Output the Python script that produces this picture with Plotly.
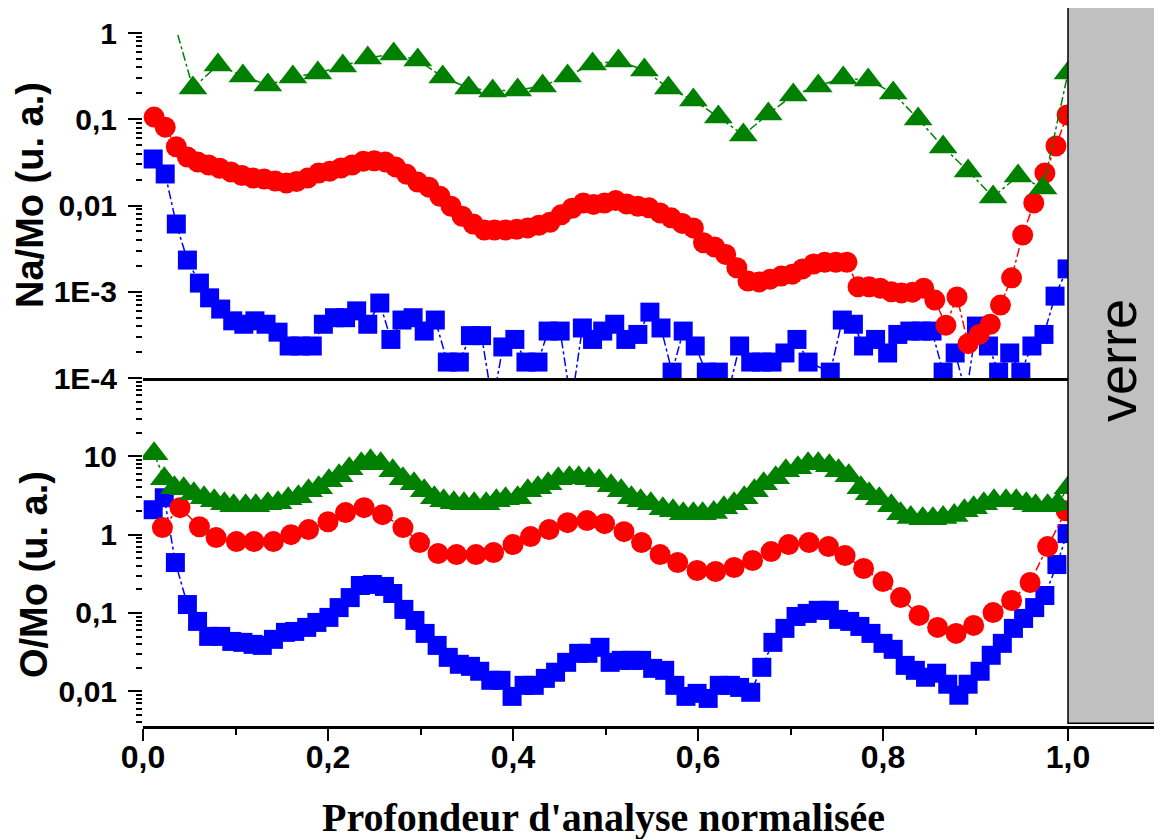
import numpy as np
import plotly.graph_objects as go

# ---------------- data ----------------
# Top panel : Na/Mo (u. a.)
green_top_x = [0.027, 0.054, 0.081, 0.108, 0.135, 0.162, 0.189, 0.216, 0.243, 0.271,
               0.297, 0.324, 0.352, 0.378, 0.405, 0.432, 0.459, 0.486, 0.514, 0.542,
               0.568, 0.595, 0.622, 0.649, 0.676, 0.703, 0.730, 0.757, 0.784, 0.811,
               0.838, 0.865, 0.892, 0.919, 0.946, 0.973, 1.000]
green_top_y = [2.4, 0.23, 0.425, 0.317, 0.249, 0.309, 0.344, 0.414, 0.513, 0.571,
               0.486, 0.309, 0.23, 0.213, 0.218, 0.243, 0.317, 0.437, 0.474, 0.372,
               0.23, 0.167, 0.106, 0.0657, 0.115, 0.191, 0.243, 0.301, 0.285, 0.201,
               0.1007, 0.0477, 0.0251, 0.01255, 0.022, 0.016, 0.344]

red_top_x = [0.012, 0.024, 0.036, 0.048, 0.059, 0.071, 0.083, 0.095, 0.107, 0.119,
             0.131, 0.143, 0.155, 0.166, 0.178, 0.190, 0.202, 0.214, 0.226, 0.238,
             0.250, 0.262, 0.273, 0.285, 0.297, 0.309, 0.321, 0.333, 0.345, 0.357,
             0.369, 0.380, 0.392, 0.404, 0.416, 0.428, 0.440, 0.452, 0.464, 0.476,
             0.487, 0.499, 0.511, 0.523, 0.535, 0.547, 0.559, 0.571, 0.583, 0.595,
             0.606, 0.618, 0.630, 0.642, 0.654, 0.666, 0.678, 0.690, 0.702, 0.713,
             0.725, 0.737, 0.749, 0.761, 0.773, 0.785, 0.797, 0.809, 0.820, 0.832,
             0.844, 0.856, 0.868, 0.880, 0.892, 0.904, 0.916, 0.927, 0.939, 0.951,
             0.963, 0.975, 0.987, 0.999]
red_top_y = [0.106, 0.081, 0.048, 0.0365, 0.032, 0.0295, 0.027, 0.0245, 0.0223, 0.0208,
             0.0203, 0.0192, 0.0182, 0.019, 0.0208, 0.0238, 0.025, 0.0272, 0.0295, 0.0325,
             0.033, 0.032, 0.028, 0.023, 0.0187, 0.0163, 0.0128, 0.0098, 0.0075, 0.0061,
             0.0052, 0.0052, 0.0052, 0.0053, 0.0055, 0.0059, 0.0064, 0.0078, 0.0093, 0.0107,
             0.0103, 0.0107, 0.0114, 0.0104, 0.0098, 0.0094, 0.0082, 0.0072, 0.0062, 0.0055,
             0.0037, 0.0033, 0.0027, 0.0019, 0.00133, 0.0013, 0.0014, 0.00152, 0.0016, 0.00184,
             0.0021, 0.0022, 0.0022, 0.0022, 0.00114, 0.00114, 0.0011, 0.001, 0.00097, 0.00099,
             0.0011, 0.0008, 0.00041, 0.00087, 0.00025, 0.00032, 0.00042, 0.0007, 0.00145, 0.00455,
             0.0107, 0.0238, 0.049, 0.112]

blue_top_x = [0.011, 0.024, 0.036, 0.048, 0.061, 0.072, 0.084, 0.097, 0.109, 0.121,
              0.133, 0.146, 0.158, 0.170, 0.183, 0.195, 0.207, 0.219, 0.231, 0.243,
              0.256, 0.268, 0.280, 0.292, 0.304, 0.316, 0.329, 0.342, 0.354, 0.366,
              0.378, 0.389, 0.402, 0.414, 0.427, 0.438, 0.451, 0.463, 0.475, 0.486,
              0.497, 0.510, 0.522, 0.535, 0.548, 0.560, 0.572, 0.584, 0.597, 0.609,
              0.622, 0.634, 0.645, 0.657, 0.669, 0.680, 0.694, 0.707, 0.719, 0.743,
              0.756, 0.768, 0.779, 0.792, 0.805, 0.816, 0.829, 0.841, 0.853, 0.865,
              0.878, 0.890, 0.901, 0.914, 0.925, 0.937, 0.949, 0.961, 0.974, 0.986,
              0.999]
blue_top_y = [0.0346, 0.0232, 0.0061, 0.00233, 0.00126, 0.00085, 0.00063, 0.00046, 0.00042, 0.00046,
              0.00042, 0.00034, 0.000235, 0.000235, 0.000235, 0.00042, 0.0005, 0.0005, 0.0006, 0.00042,
              0.00074, 0.00028, 0.00047, 0.0005, 0.00035, 0.00047, 0.000153, 0.000153, 0.00031, 0.00031,
              0.00005, 0.000229, 0.00028, 0.000153, 0.000153, 0.00035, 0.00035, 0.00005, 0.00038, 0.00028,
              0.00035, 0.00042, 0.00028, 0.00032, 0.00058, 0.00038, 0.000117, 0.00035, 0.000235, 0.000117,
              0.000117, 0.000077, 0.000235, 0.000153, 0.000153, 0.000153, 0.000195, 0.00028, 0.000153, 0.000117,
              0.00047, 0.00042, 0.000235, 0.00028, 0.000195, 0.00032, 0.00035, 0.00035, 0.00035, 0.000117,
              0.000195, 0.000064, 0.0004, 0.000235, 0.000117, 0.000195, 0.000117, 0.000235, 0.00032, 0.00089,
              0.00184]

# Bottom panel : O/Mo (u. a.)
green_bot_x = [0.012, 0.023, 0.034, 0.044, 0.055, 0.066, 0.077, 0.088, 0.098,
               0.111, 0.122, 0.135, 0.146, 0.157, 0.168, 0.179, 0.190, 0.201, 0.212,
               0.223, 0.236, 0.246, 0.257, 0.270, 0.281, 0.293, 0.304, 0.315, 0.325,
               0.336, 0.347, 0.358, 0.371, 0.382, 0.392, 0.405, 0.416, 0.427, 0.438,
               0.449, 0.461, 0.471, 0.482, 0.493, 0.506, 0.517, 0.528, 0.538, 0.549,
               0.562, 0.573, 0.584, 0.595, 0.605, 0.617, 0.628, 0.639, 0.650, 0.661,
               0.671, 0.684, 0.695, 0.708, 0.719, 0.730, 0.742, 0.752, 0.763, 0.776,
               0.785, 0.796, 0.809, 0.819, 0.830, 0.843, 0.854, 0.865, 0.877, 0.888,
               0.898, 0.909, 0.920, 0.933, 0.944, 0.955, 0.965, 0.978, 0.989, 1.000]
green_bot_y = [10.8, 5.17, 3.97, 3.86, 3.33, 2.96, 2.71, 2.48, 2.34,
               2.34, 2.34, 2.48, 2.56, 2.87, 3.05, 3.64, 3.97, 4.88, 5.64,
               6.93, 8.02, 8.77, 8.02, 6.54, 5.17, 4.47, 3.64, 2.96, 2.71,
               2.56, 2.48, 2.48, 2.48, 2.71, 2.87, 2.96, 3.64, 3.97, 4.47,
               5.17, 5.32, 5.32, 5.17, 4.88, 4.21, 3.64, 2.96, 2.71, 2.48,
               2.14, 2.02, 1.85, 1.85, 1.85, 1.91, 2.21, 2.48, 2.96, 3.64,
               4.47, 5.32, 6.54, 7.14, 8.02, 8.02, 7.57, 6.54, 5.64, 3.97,
               3.33, 2.87, 2.34, 1.85, 1.65, 1.60, 1.60, 1.65, 1.75, 2.02,
               2.21, 2.48, 2.71, 2.71, 2.71, 2.48, 2.34, 2.34, 2.48, 3.97]

red_bot_x = [0.021, 0.040, 0.061, 0.079, 0.101, 0.120, 0.141, 0.160, 0.179, 0.200,
             0.219, 0.239, 0.259, 0.281, 0.299, 0.319, 0.339, 0.360, 0.379, 0.400,
             0.419, 0.439, 0.459, 0.480, 0.499, 0.520, 0.539, 0.559, 0.578, 0.599,
             0.619, 0.639, 0.659, 0.679, 0.698, 0.720, 0.741, 0.759, 0.779, 0.800,
             0.819, 0.839, 0.859, 0.879, 0.898, 0.919, 0.939, 0.959, 0.978, 0.998]
red_bot_y = [1.23, 2.21, 1.26, 0.917, 0.815, 0.815, 0.815, 1.00, 1.16, 1.46,
             1.91, 2.21, 1.80, 1.23, 0.791, 0.573, 0.556, 0.556, 0.590, 0.746,
             0.944, 1.16, 1.42, 1.51, 1.38, 1.09, 0.791, 0.556, 0.440, 0.348,
             0.338, 0.380, 0.467, 0.607, 0.746, 0.791, 0.703, 0.540, 0.369, 0.252,
             0.157, 0.0929, 0.0654, 0.0548, 0.0693, 0.101, 0.144, 0.245, 0.703, 2.02]

blue_bot_x = [0.011, 0.023, 0.035, 0.048, 0.059, 0.071, 0.084, 0.096, 0.108, 0.119,
              0.129, 0.141, 0.154, 0.164, 0.177, 0.188, 0.201, 0.212, 0.224, 0.235,
              0.248, 0.261, 0.270, 0.282, 0.294, 0.305, 0.318, 0.330, 0.342, 0.354,
              0.364, 0.376, 0.387, 0.399, 0.412, 0.423, 0.435, 0.446, 0.458, 0.471,
              0.481, 0.494, 0.505, 0.517, 0.528, 0.539, 0.551, 0.564, 0.575, 0.587,
              0.599, 0.611, 0.623, 0.635, 0.645, 0.657, 0.669, 0.681, 0.694, 0.706,
              0.718, 0.730, 0.742, 0.752, 0.764, 0.775, 0.787, 0.800, 0.811, 0.824,
              0.835, 0.846, 0.858, 0.870, 0.882, 0.892, 0.905, 0.917, 0.929, 0.941,
              0.952, 0.964, 0.975, 0.988, 0.999]
blue_bot_y = [2.08, 2.96, 0.44, 0.128, 0.078, 0.0502, 0.0502, 0.0433, 0.0421, 0.0397,
              0.0385, 0.046, 0.0565, 0.0581, 0.0654, 0.0757, 0.0877, 0.117, 0.157, 0.224,
              0.231, 0.218, 0.177, 0.111, 0.0802, 0.0548, 0.0385, 0.0271, 0.0221, 0.0208,
              0.018, 0.0138, 0.0138, 0.0086, 0.0119, 0.0119, 0.0146, 0.0175, 0.0234, 0.0305,
              0.0305, 0.0364, 0.0234, 0.0248, 0.0248, 0.0248, 0.0196, 0.0185, 0.0119, 0.0086,
              0.0094, 0.0081, 0.0119, 0.0119, 0.0112, 0.0097, 0.0202, 0.0421, 0.0635, 0.0902,
              0.0986, 0.108, 0.108, 0.0827, 0.078, 0.0673, 0.0548, 0.0409, 0.0343, 0.0214,
              0.0185, 0.0151, 0.017, 0.0123, 0.0089, 0.0123, 0.018, 0.0288, 0.0409, 0.0635,
              0.0851, 0.117, 0.167, 0.415, 1.03]

x_tick_vals = [0.0, 0.2, 0.4, 0.6, 0.8, 1.0]
x_tick_text = ["0,0", "0,2", "0,4", "0,6", "0,8", "1,0"]
x_minor_vals = [0.1, 0.3, 0.5, 0.7, 0.9]
top_tick_vals = [1e-4, 1e-3, 1e-2, 1e-1, 1]
top_tick_text = ["1E-4", "1E-3", "0,01", "0,1", "1"]
bot_tick_vals = [0.01, 0.1, 1, 10]
bot_tick_text = ["0,01", "0,1", "1", "10"]
glass_label = "verre"

# ---------------- layout constants ----------------
# the page body has an 8 px margin, so the figure is drawn 8 px smaller
OFF = 8
W, H = 1162 - OFF, 839 - OFF
L, R, T, B = 143 - OFF, 0, 33 - OFF, 113
plot_w = W - L - R
plot_h = H - T - B
px_per_unit = 925.0
x_max = plot_w / px_per_unit
split = 348.0 / plot_h


def px_x(px):   # reference pixel -> paper x
    return (px - 143) / plot_w


def px_y(py):   # reference pixel -> paper y
    return (726 - py) / plot_h


GREEN, RED, BLUE = "#008000", "#FF0000", "#0000FF"


def minor_log(lo_exp, hi_exp):
    vals = []
    for e in range(lo_exp, hi_exp):
        for m in range(2, 10):
            vals.append(m * 10.0 ** e)
    return vals


fig = go.Figure()


def add(x, y, color, symbol, size, xa, ya):
    fig.add_trace(go.Scatter(
        x=x, y=y, xaxis=xa, yaxis=ya, mode="lines+markers",
        line=dict(color=color, width=1.5, dash="dashdot"),
        marker=dict(color=color, symbol=symbol, size=size, line=dict(width=0)),
        showlegend=False, hoverinfo="skip"))


# top panel (x2, y2)
add(blue_top_x, blue_top_y, BLUE, "square", 19, "x2", "y2")
add(red_top_x, red_top_y, RED, "circle", 21, "x2", "y2")
add(green_top_x, green_top_y, GREEN, "triangle-up", 25, "x2", "y2")
# bottom panel (x, y)
add(blue_bot_x, blue_bot_y, BLUE, "square", 19, "x", "y")
add(red_bot_x, red_bot_y, RED, "circle", 21, "x", "y")
add(green_bot_x, green_bot_y, GREEN, "triangle-up", 25, "x", "y")

tickfont_y = dict(family="Liberation Sans, Arial, sans-serif", size=30, color="black", weight="bold")
tickfont_x = dict(family="Liberation Sans, Arial, sans-serif", size=32, color="black", weight="bold")

yaxis_common = dict(
    type="log", tickmode="array", ticks="outside", ticklen=14, tickwidth=2,
    tickcolor="black", showline=False, showgrid=False, zeroline=False,
    tickfont=tickfont_y, ticklabelstandoff=5,
)

fig.update_layout(
    width=W, height=H,
    margin=dict(l=L, r=R, t=T, b=B, pad=0),
    paper_bgcolor="white", plot_bgcolor="white",
    showlegend=False,
    xaxis=dict(
        domain=[0, 1], anchor="y", range=[0, x_max],
        tickmode="array", tickvals=x_tick_vals, ticktext=x_tick_text,
        ticks="outside", ticklen=12, tickwidth=2, tickcolor="black",
        showline=True, linewidth=2.5, linecolor="black",
        showgrid=False, zeroline=False, tickfont=tickfont_x,
        ticklabelstandoff=-11,
        minor=dict(tickmode="array", tickvals=x_minor_vals, ticks="outside",
                   ticklen=6, tickwidth=2, tickcolor="black", showgrid=False),
    ),
    xaxis2=dict(
        domain=[0, 1], anchor="y2", matches="x", showticklabels=False, ticks="",
        showline=True, linewidth=2.5, linecolor="black",
        showgrid=False, zeroline=False,
    ),
    yaxis=dict(
        domain=[0, split], anchor="x", range=[np.log10(0.0036), 2],
        tickvals=bot_tick_vals, ticktext=bot_tick_text,
        minor=dict(tickmode="array", tickvals=minor_log(-3, 2), ticks="outside",
                   ticklen=6, tickwidth=2, tickcolor="black", showgrid=False),
        **yaxis_common,
    ),
    yaxis2=dict(
        domain=[split, 1], anchor="x2", range=[-4, 0],
        tickvals=top_tick_vals, ticktext=top_tick_text,
        minor=dict(tickmode="array", tickvals=minor_log(-4, 0), ticks="outside",
                   ticklen=6, tickwidth=2, tickcolor="black", showgrid=False),
        **yaxis_common,
    ),
)

# glass region
fig.add_shape(type="rect", xref="paper", yref="paper",
              x0=1.0 / x_max, x1=1.02, y0=0.004, y1=px_y(7),
              fillcolor="#C0C0C0", line=dict(color="black", width=1.5), layer="above")

fig.add_annotation(text=glass_label, xref="paper", yref="paper",
                   x=px_x(1117), y=px_y(361), textangle=-90,
                   showarrow=False, xanchor="center", yanchor="middle",
                   font=dict(family="Liberation Sans, Arial, sans-serif", size=54, color="black"))

fig.add_annotation(text="<b>Na/Mo (u. a.)</b>", xref="paper", yref="paper",
                   x=px_x(30), y=px_y(195), textangle=-90,
                   showarrow=False, xanchor="center", yanchor="middle",
                   font=dict(family="Liberation Sans, Arial, sans-serif", size=38, color="black"))
fig.add_annotation(text="<b>O/Mo (u. a.)</b>", xref="paper", yref="paper",
                   x=px_x(34), y=px_y(575), textangle=-90,
                   showarrow=False, xanchor="center", yanchor="middle",
                   font=dict(family="Liberation Sans, Arial, sans-serif", size=38, color="black"))
fig.add_annotation(text="<b>Profondeur d'analyse normalisée</b>", xref="paper", yref="paper",
                   x=px_x(603), y=px_y(817),
                   showarrow=False, xanchor="center", yanchor="middle",
                   font=dict(family="Liberation Serif, Times New Roman, serif", size=40, color="black"))

fig.write_html("out.html")
